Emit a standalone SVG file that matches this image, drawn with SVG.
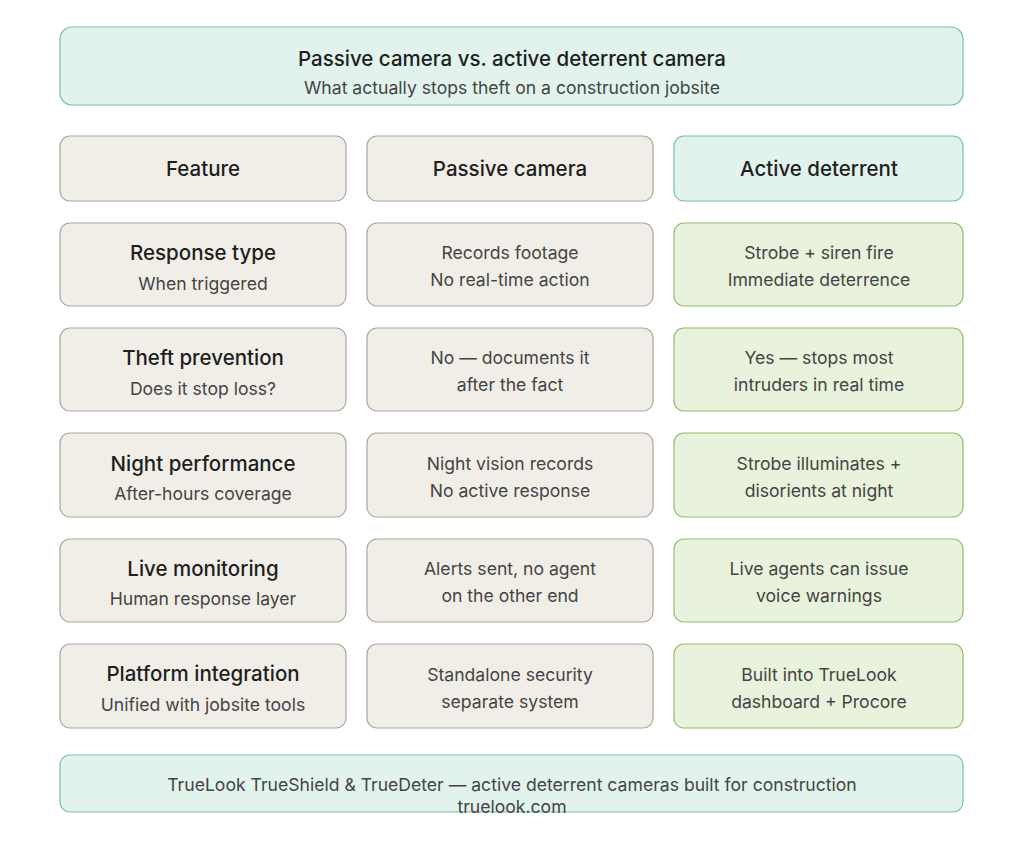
<svg xmlns="http://www.w3.org/2000/svg" width="1024" height="843" viewBox="0 0 1024 843">
<style>
text{font-family:"Inter","Noto Sans","Liberation Sans",sans-serif;text-anchor:middle}
.t{font-size:20.5px;font-weight:500;fill:#1f1f1f}
.s{font-size:17.6px;fill:#444}
.teal{fill:#e1f3ec;stroke:#7cbfa6;stroke-width:1.2}
.gray{fill:#f1eee8;stroke:#a9a7a2;stroke-width:1.2}
.green{fill:#e8f2dd;stroke:#8fbb6b;stroke-width:1.2}
</style>
<rect width="1024" height="843" fill="#fff"/>
<g id="title"><rect class="teal" x="60" y="27" width="903" height="78" rx="12"/><text class="t" x="512" y="66">Passive camera vs. active deterrent camera</text><text class="s" x="512" y="94">What actually stops theft on a construction jobsite</text></g>
<g id="h1"><rect class="gray" x="60" y="136" width="286" height="65" rx="10"/><text class="t" x="203" y="176">Feature</text></g>
<g id="h2"><rect class="gray" x="367" y="136" width="286" height="65" rx="10"/><text class="t" x="510" y="176">Passive camera</text></g>
<g id="h3"><rect class="teal" x="674" y="136" width="289" height="65" rx="10"/><text class="t" x="819" y="176">Active deterrent</text></g>

<g id="r1a"><rect class="gray" x="60" y="223" width="286" height="83" rx="10"/><text class="t" x="203" y="260">Response type</text><text class="s" x="203" y="290">When triggered</text></g>
<g id="r1b"><rect class="gray" x="367" y="223" width="286" height="83" rx="10"/><text class="s" x="510" y="259">Records footage</text><text class="s" x="510" y="286">No real-time action</text></g>
<g id="r1c"><rect class="green" x="674" y="223" width="289" height="83" rx="10"/><text class="s" x="819" y="259">Strobe + siren fire</text><text class="s" x="819" y="286">Immediate deterrence</text></g>

<g id="r2a"><rect class="gray" x="60" y="328" width="286" height="83" rx="10"/><text class="t" x="203" y="365">Theft prevention</text><text class="s" x="203" y="395">Does it stop loss?</text></g>
<g id="r2b"><rect class="gray" x="367" y="328" width="286" height="83" rx="10"/><text class="s" x="510" y="364">No — documents it</text><text class="s" x="510" y="391">after the fact</text></g>
<g id="r2c"><rect class="green" x="674" y="328" width="289" height="83" rx="10"/><text class="s" x="819" y="364">Yes — stops most</text><text class="s" x="819" y="391">intruders in real time</text></g>

<g id="r3a"><rect class="gray" x="60" y="433" width="286" height="84" rx="10"/><text class="t" x="203" y="471">Night performance</text><text class="s" x="203" y="500">After-hours coverage</text></g>
<g id="r3b"><rect class="gray" x="367" y="433" width="286" height="84" rx="10"/><text class="s" x="510" y="470">Night vision records</text><text class="s" x="510" y="497">No active response</text></g>
<g id="r3c"><rect class="green" x="674" y="433" width="289" height="84" rx="10"/><text class="s" x="819" y="470">Strobe illuminates +</text><text class="s" x="819" y="497">disorients at night</text></g>

<g id="r4a"><rect class="gray" x="60" y="539" width="286" height="83" rx="10"/><text class="t" x="203" y="576">Live monitoring</text><text class="s" x="203" y="605">Human response layer</text></g>
<g id="r4b"><rect class="gray" x="367" y="539" width="286" height="83" rx="10"/><text class="s" x="510" y="575">Alerts sent, no agent</text><text class="s" x="510" y="602">on the other end</text></g>
<g id="r4c"><rect class="green" x="674" y="539" width="289" height="83" rx="10"/><text class="s" x="819" y="575">Live agents can issue</text><text class="s" x="819" y="602">voice warnings</text></g>

<g id="r5a"><rect class="gray" x="60" y="644" width="286" height="84" rx="10"/><text class="t" x="203" y="681">Platform integration</text><text class="s" x="203" y="711">Unified with jobsite tools</text></g>
<g id="r5b"><rect class="gray" x="367" y="644" width="286" height="84" rx="10"/><text class="s" x="510" y="681">Standalone security</text><text class="s" x="510" y="708">separate system</text></g>
<g id="r5c"><rect class="green" x="674" y="644" width="289" height="84" rx="10"/><text class="s" x="819" y="681">Built into TrueLook</text><text class="s" x="819" y="708">dashboard + Procore</text></g>

<g id="footer"><rect class="teal" x="60" y="755" width="903" height="57" rx="10"/><text class="s" x="512" y="791">TrueLook TrueShield &amp; TrueDeter — active deterrent cameras built for construction</text><text class="s" x="512" y="813">truelook.com</text></g>
<g id="connectors"/>
</svg>
